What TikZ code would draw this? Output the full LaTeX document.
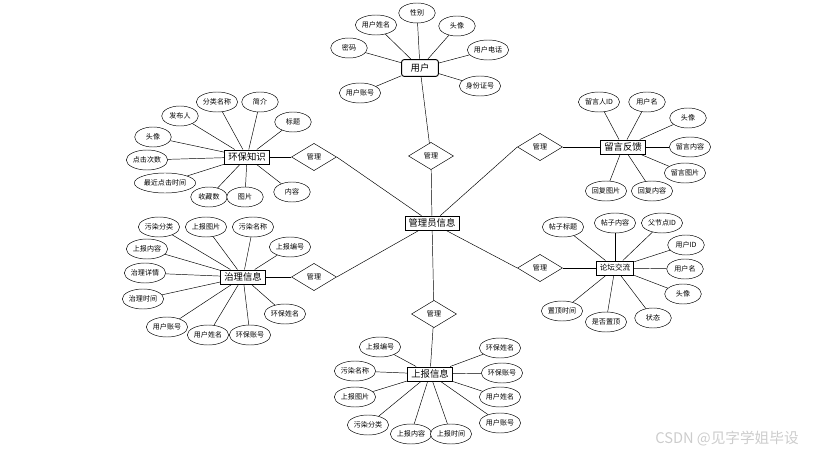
\documentclass[tikz,border=0pt]{standalone}
\usepackage{fontspec}
\setmainfont{Noto Sans CJK SC}
\usetikzlibrary{shapes.geometric}

\begin{document}
\begin{tikzpicture}[
      x=0.03cm, y=-0.03cm,
      ent/.style={draw, line width=0.8pt, fill=white, minimum height=0.42cm, inner xsep=3pt, inner ysep=1pt, font=\fontsize{8}{9}\selectfont},
      attr/.style={draw, ellipse, fill=white, minimum width=1.1cm, minimum height=0.6cm, inner sep=0.5pt, font=\fontsize{6}{7}\selectfont},
      rel/.style={draw, diamond, fill=white, minimum width=1.35cm, minimum height=0.82cm, inner sep=0pt, font=\fontsize{6}{7}\selectfont}
    ]
      \useasboundingbox (0,0) rectangle (814,455);

      \node[ent, line width=0.6pt] (admin) at (432,223) {管理员信息};

      \node[ent, rounded corners=2pt, minimum width=1.1cm, minimum height=0.5cm] (user) at (420,68) {用户};
      \node[attr] (uSex) at (417,13) {性别};
      \node[attr] (uName) at (376,25) {用户姓名};
      \node[attr] (uHead) at (457,26) {头像};
      \node[attr] (uPwd) at (349,48) {密码};
      \node[attr] (uTel) at (488,50) {用户电话};
      \node[attr] (uId) at (480,86) {身份证号};
      \node[attr] (uAcc) at (360,93) {用户账号};
      \node[rel] (relUser) at (431,156) {管理};

      \node[ent] (env) at (247,157) {环保知识};
      \node[attr] (eKind) at (217,102) {分类名称};
      \node[attr] (eIntro) at (260,102) {简介};
      \node[attr] (ePub) at (180,116) {发布人};
      \node[attr] (eTitle) at (293,122) {标题};
      \node[attr] (eHead) at (153,137) {头像};
      \node[attr] (eClick) at (147,160) {点击次数};
      \node[attr] (eLast) at (165,183) {最近点击时间};
      \node[attr] (eFav) at (209,197) {收藏数};
      \node[attr] (ePic) at (245,197) {图片};
      \node[attr] (eText) at (292,192) {内容};
      \node[rel] (relEnv) at (314,157) {管理};

      \node[ent] (treat) at (243,277) {治理信息};
      \node[attr] (tKind) at (159,227) {污染分类};
      \node[attr] (tPic) at (206,227) {上报图片};
      \node[attr] (tName) at (253,227) {污染名称};
      \node[attr] (tNo) at (290,247) {上报编号};
      \node[attr] (tText) at (147,249) {上报内容};
      \node[attr] (tDet) at (145,273) {治理详情};
      \node[attr] (tTime) at (143,299) {治理时间};
      \node[attr] (tUAcc) at (167,327) {用户账号};
      \node[attr] (tUName) at (208,335) {用户姓名};
      \node[attr] (tEAcc) at (250,335) {环保账号};
      \node[attr] (tEName) at (285,314) {环保姓名};
      \node[rel] (relTreat) at (314,277) {管理};

      \node[ent] (rep) at (430,374) {上报信息};
      \node[attr] (rNo) at (380,347) {上报编号};
      \node[attr] (rName) at (355,371) {污染名称};
      \node[attr] (rPic) at (355,397) {上报图片};
      \node[attr] (rKind) at (368,425) {污染分类};
      \node[attr] (rText) at (411,434) {上报内容};
      \node[attr] (rTime) at (451,434) {上报时间};
      \node[attr] (rUAcc) at (500,423) {用户账号};
      \node[attr] (rUName) at (500,397) {用户姓名};
      \node[attr] (rEAcc) at (502,373) {环保账号};
      \node[attr] (rEName) at (500,348) {环保姓名};
      \node[rel] (relRep) at (434,314) {管理};

      \node[ent] (msg) at (623,147) {留言反馈};
      \node[attr] (mUid) at (599,102) {留言人ID};
      \node[attr] (mUName) at (647,102) {用户名};
      \node[attr] (mHead) at (688,118) {头像};
      \node[attr] (mText) at (690,147) {留言内容};
      \node[attr] (mPic) at (685,173) {留言图片};
      \node[attr] (mRPic) at (606,191) {回复图片};
      \node[attr] (mRText) at (652,191) {回复内容};
      \node[rel] (relMsg) at (540,147) {管理};

      \node[ent, font=\fontsize{6.5}{8}\selectfont] (forum) at (615,268) {论坛交流};
      \node[attr] (fTitle) at (563,227) {帖子标题};
      \node[attr] (fText) at (615,223) {帖子内容};
      \node[attr] (fPid) at (662,223) {父节点ID};
      \node[attr] (fUid) at (686,245) {用户ID};
      \node[attr] (fUName) at (685,269) {用户名};
      \node[attr] (fHead) at (683,294) {头像};
      \node[attr] (fState) at (653,318) {状态};
      \node[attr] (fTop) at (606,322) {是否置顶};
      \node[attr] (fTopT) at (562,311) {置顶时间};
      \node[rel] (relForum) at (540,268) {管理};

      \node[text=gray!40, font=\fontsize{12.5}{14}\selectfont] (mark) at (727,439) {CSDN @见字学姐毕设};

      \draw (user) -- (uSex);
      \draw (user) -- (uName);
      \draw (user) -- (uHead);
      \draw (user) -- (uPwd);
      \draw (user) -- (uTel);
      \draw (user) -- (uId);
      \draw (user) -- (uAcc);
      \draw (user) -- (relUser);
      \draw (relUser) -- (admin);

      \draw (env) -- (eKind);
      \draw (env) -- (eIntro);
      \draw (env) -- (ePub);
      \draw (env) -- (eTitle);
      \draw (env) -- (eHead);
      \draw (env) -- (eClick);
      \draw (env) -- (eLast);
      \draw (env) -- (eFav);
      \draw (env) -- (ePic);
      \draw (env) -- (eText);
      \draw (env) -- (relEnv);
      \draw (relEnv.east) -- (admin);

      \draw (treat) -- (tKind);
      \draw (treat) -- (tPic);
      \draw (treat) -- (tName);
      \draw (treat) -- (tNo);
      \draw (treat) -- (tText);
      \draw (treat) -- (tDet);
      \draw (treat) -- (tTime);
      \draw (treat) -- (tUAcc);
      \draw (treat) -- (tUName);
      \draw (treat) -- (tEAcc);
      \draw (treat) -- (tEName);
      \draw (treat) -- (relTreat);
      \draw (relTreat.east) -- (admin);

      \draw (rep) -- (rNo);
      \draw (rep) -- (rName);
      \draw (rep) -- (rPic);
      \draw (rep) -- (rKind);
      \draw (rep) -- (rText);
      \draw (rep) -- (rTime);
      \draw (rep) -- (rUAcc);
      \draw (rep) -- (rUName);
      \draw (rep) -- (rEAcc);
      \draw (rep) -- (rEName);
      \draw (rep) -- (relRep);
      \draw (relRep) -- (admin);

      \draw (msg) -- (mUid);
      \draw (msg) -- (mUName);
      \draw (msg) -- (mHead);
      \draw (msg) -- (mText);
      \draw (msg) -- (mPic);
      \draw (msg) -- (mRPic);
      \draw (msg) -- (mRText);
      \draw (msg) -- (relMsg);
      \draw (relMsg.west) -- (admin);

      \draw (forum) -- (fTitle);
      \draw (forum) -- (fText);
      \draw (forum) -- (fPid);
      \draw (forum) -- (fUid);
      \draw (forum) -- (fUName);
      \draw (forum) -- (fHead);
      \draw (forum) -- (fState);
      \draw (forum) -- (fTop);
      \draw (forum) -- (fTopT);
      \draw (forum) -- (relForum);
      \draw (relForum.west) -- (admin);
    \end{tikzpicture}
\end{document}
